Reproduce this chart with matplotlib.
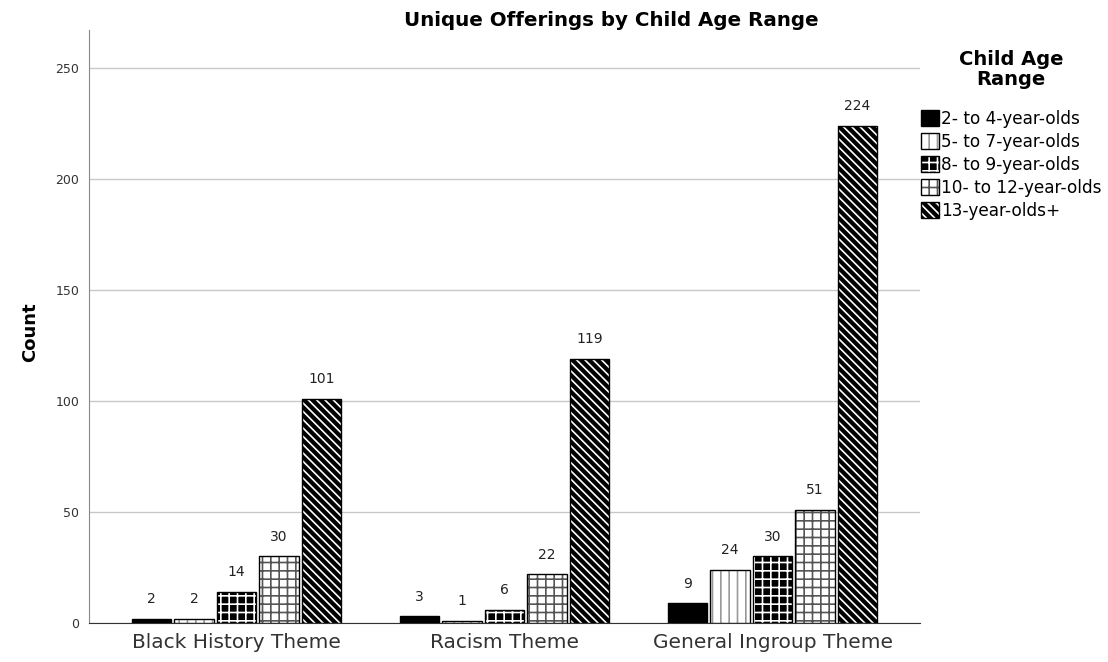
import numpy as np
import matplotlib
matplotlib.use("Agg")
import matplotlib.pyplot as plt
from matplotlib.patches import Patch

plt.rcParams["font.family"] = ["DejaVu Sans"]
plt.rcParams["hatch.linewidth"] = 1.2

themes = ["Black History Theme", "Racism Theme", "General Ingroup Theme"]
age_ranges = ["2- to 4-year-olds", "5- to 7-year-olds", "8- to 9-year-olds",
              "10- to 12-year-olds", "13-year-olds+"]
age_2_4 = [2, 3, 9]
age_5_7 = [2, 1, 24]
age_8_9 = [14, 6, 30]
age_10_12 = [30, 22, 51]
age_13_up = [101, 119, 224]
series = [age_2_4, age_5_7, age_8_9, age_10_12, age_13_up]

# face colour, hatch colour, hatch pattern
styles = [
    ("black", "black", None),
    ("white", "#999999", "||"),
    ("black", "white", "++"),
    ("white", "#555555", "++"),
    ("black", "white", "\\\\\\\\"),
]

fig = plt.figure(figsize=(11.08, 6.62), dpi=100)
ax = fig.add_axes([89 / 1108, 1 - 623 / 662, 831 / 1108, 593 / 662])

xpos = np.arange(len(themes))
width = 0.147
step = 0.1586

handles = []
for i, vals in enumerate(series):
    face, hcol, hatch = styles[i]
    x = xpos + (i - 2) * step
    ax.bar(x, vals, width, color=face, edgecolor=hcol, hatch=hatch,
           linewidth=0, zorder=3)
    ax.bar(x, vals, width, fill=False, edgecolor="black", linewidth=1,
           zorder=4)
    for xi, v in zip(x, vals):
        ax.annotate(str(v), (xi, v), xytext=(0, 9), textcoords="offset points",
                    ha="center", va="bottom", fontsize=10, color="#222222")
    handles.append((Patch(facecolor=face, edgecolor=hcol, hatch=hatch, linewidth=0),
                    Patch(fill=False, edgecolor="black", linewidth=1)))

ax.set_xlim(-0.55, 2.55)
ax.set_ylim(0, 267)
ax.set_yticks([0, 50, 100, 150, 200, 250])
ax.set_xticks(xpos)
ax.set_xticklabels(themes, fontsize=14.5, color="#333333")
ax.tick_params(axis="x", length=0, pad=7)
ax.tick_params(axis="y", length=0, pad=7, labelsize=9, labelcolor="#333333")
ax.grid(axis="y", color="#c8c8c8", linewidth=1, zorder=0)
ax.spines["top"].set_visible(False)
ax.spines["right"].set_visible(False)
ax.spines["left"].set_color("#888888")
ax.spines["bottom"].set_color("#333333")

fig.text(611 / 1108, 1 - 21 / 662, "Unique Offerings by Child Age Range",
         ha="center", va="center", fontsize=14.3, fontweight="bold")
fig.text(30 / 1108, 1 - 332 / 662, "Count", rotation=90, ha="center",
         va="center", fontsize=13, fontweight="bold")

leg = fig.legend(handles, age_ranges, loc="upper left",
                 bbox_to_anchor=(921 / 1108, 1 - 50 / 662), frameon=False,
                 fontsize=12.2, title="Child Age\nRange",
                 title_fontproperties={"weight": "bold", "size": 14},
                 handlelength=1.05, handleheight=1.05, handletextpad=0.12,
                 labelspacing=0.3, borderaxespad=0, borderpad=0)
leg.get_title().set_multialignment("center")
leg.get_title().set_linespacing(1.05)
leg._legend_box.sep = 15

fig.savefig("out.png", dpi=100)
